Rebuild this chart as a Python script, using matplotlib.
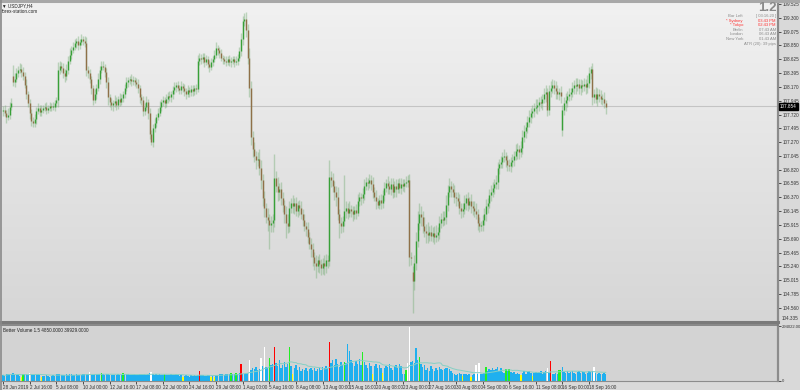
import numpy as np
import pandas as pd
import matplotlib
matplotlib.use("Agg")
import matplotlib.pyplot as plt

plt.rcParams['font.family'] = ['Liberation Sans', 'DejaVu Sans']

# USDJPY H4 closes, one row per trading day (6 bars), 28 Jun 2019 -> 20 Sep 2019
closes = [
    107.80, 107.75, 107.68, 107.72, 107.85, 107.90,
    108.25, 108.30, 108.40, 108.45, 108.47, 108.42,
    108.35, 108.20, 108.05, 107.90, 107.75, 107.62,
    107.58, 107.65, 107.78, 107.82, 107.76, 107.80,
    107.82, 107.84, 107.80, 107.83, 107.86, 107.85,
    107.85, 107.90, 107.95, 108.45, 108.52, 108.48,
    108.40, 108.35, 108.45, 108.60, 108.70, 108.78,
    108.82, 108.88, 108.92, 108.85, 108.90, 108.95,
    108.92, 108.88, 108.45, 108.40, 108.30, 108.15,
    107.96, 108.05, 108.15, 108.30, 108.45, 108.52,
    108.50, 108.42, 108.25, 108.00, 107.92, 107.88,
    107.90, 107.94, 107.88, 107.98, 107.92, 107.99,
    108.05, 108.15, 108.25, 108.28, 108.30, 108.26,
    108.29, 108.25, 108.22, 108.15, 108.00, 107.95,
    107.78, 107.85, 107.92, 107.75, 107.40, 107.27,
    107.50, 107.58, 107.68, 107.75, 107.85, 107.92,
    107.95, 107.90, 107.98, 108.03, 108.00, 108.05,
    108.12, 108.17, 108.20, 108.15, 108.12, 108.18,
    108.15, 108.10, 108.05, 108.12, 108.08, 108.14,
    108.10, 108.15, 108.13, 108.60, 108.65, 108.62,
    108.66, 108.58, 108.62, 108.55, 108.50, 108.58,
    108.62, 108.70, 108.80, 108.78, 108.72, 108.65,
    108.62, 108.60, 108.58, 108.62, 108.57, 108.60,
    108.62, 108.58, 108.60, 108.65, 108.75, 108.95,
    109.25, 109.28, 109.10, 108.65, 108.15, 107.35,
    107.15, 107.05, 106.98, 107.00, 106.85, 106.65,
    106.35, 106.20, 106.05, 106.00, 105.92, 105.95,
    106.00, 106.68, 106.55, 106.45, 106.50, 106.35,
    106.25, 106.10, 105.95, 105.90, 106.20, 106.28,
    106.22, 106.28, 106.15, 106.25, 106.20, 106.10,
    106.00, 105.90, 105.85, 105.72, 105.60, 105.52,
    105.40, 105.30, 105.25, 105.35, 105.28, 105.22,
    105.30, 105.25, 105.35, 105.32, 106.70, 106.65,
    106.55, 106.45, 106.38, 106.10, 105.95, 105.90,
    105.98, 106.15, 106.20, 106.12, 106.18, 106.14,
    106.10, 106.16, 106.12, 106.30, 106.38, 106.35,
    106.42, 106.55, 106.62, 106.60, 106.65, 106.58,
    106.45, 106.38, 106.30, 106.25, 106.32, 106.28,
    106.40, 106.52, 106.60, 106.55, 106.50, 106.58,
    106.45, 106.55, 106.50, 106.60, 106.52, 106.58,
    106.55, 106.60, 106.62, 106.65, 105.40, 105.38,
    105.00, 105.30, 105.65, 105.95, 106.10, 106.05,
    105.90, 105.82, 105.78, 105.75, 105.80, 105.74,
    105.78, 105.72, 105.76, 105.80, 105.95, 106.02,
    106.00, 106.05, 106.25, 106.45, 106.55, 106.50,
    106.45, 106.38, 106.35, 106.30, 106.20, 106.15,
    106.18, 106.28, 106.35, 106.25, 106.30, 106.22,
    106.20, 106.15, 106.10, 105.95, 105.90, 105.92,
    106.00, 106.10, 106.22, 106.28, 106.40, 106.45,
    106.52, 106.58, 106.62, 106.85, 106.92, 106.95,
    107.02, 107.05, 106.98, 106.90, 106.88, 106.95,
    106.98, 107.05, 107.12, 107.15, 107.10, 107.18,
    107.35, 107.45, 107.52, 107.60, 107.68, 107.75,
    107.78, 107.82, 107.85, 107.88, 107.92, 107.90,
    107.98, 108.05, 108.08, 107.80, 108.10, 108.15,
    108.20, 108.15, 108.10, 108.05, 108.08, 108.02,
    107.80, 107.90, 107.95, 108.02, 108.05, 108.08,
    108.15, 108.20, 108.18, 108.22, 108.16, 108.20,
    108.18, 108.22, 108.17, 108.24, 108.40, 108.46,
    108.00, 108.05, 107.98, 108.06, 108.02, 107.97,
    107.98, 107.90, 107.85,
]
first_open = 107.78
# Monday opens that gapped away from the Friday close
gap_opens = {6: 108.35, 246: 105.15, 336: 107.47}

# upper / lower shadow lengths in pips (0.01)
wick_up = [
    6, 8, 5, 10, 7, 9,   18, 10, 8, 6, 9, 7,   8, 6, 10, 5, 7, 6,   6, 8, 7, 9, 5, 8,
    5, 6, 8, 4, 6, 5,    7, 5, 6, 12, 8, 6,    8, 6, 9, 7, 10, 6,   8, 7, 5, 9, 6, 8,
    5, 8, 10, 7, 6, 5,   6, 8, 7, 9, 6, 8,     7, 5, 6, 8, 5, 7,    6, 10, 7, 5, 9, 6,
    5, 7, 8, 6, 5, 8,    6, 5, 7, 8, 6, 5,     8, 6, 10, 5, 7, 6,   6, 8, 5, 7, 9, 6,
    7, 5, 8, 6, 7, 5,    6, 8, 5, 7, 6, 8,     5, 7, 6, 8, 5, 6,    6, 5, 7, 10, 8, 6,
    7, 6, 8, 5, 6, 7,    6, 8, 10, 6, 5, 7,    5, 6, 8, 5, 7, 6,    6, 5, 7, 6, 8, 10,
    8, 10, 12, 10, 15, 12, 10, 12, 8, 10, 15, 12, 10, 12, 8, 15, 10, 12, 10, 40, 12, 15, 10, 12,
    10, 8, 12, 15, 10, 8, 12, 8, 10, 6, 8, 10,   8, 10, 6, 12, 8, 10,  10, 8, 12, 6, 10, 8,
    8, 12, 10, 8, 28, 10, 12, 8, 10, 15, 8, 10,  8, 58, 10, 8, 12, 6,  8, 6, 10, 12, 8, 6,
    10, 12, 8, 6, 10, 8, 12, 8, 10, 6, 8, 10,    8, 10, 6, 12, 8, 10,  10, 8, 12, 6, 8, 10,
    8, 6, 10, 8, 10, 8,  10, 12, 15, 20, 18, 12, 10, 15, 12, 18, 10, 12, 10, 12, 15, 8, 12, 10,
    12, 10, 15, 12, 13, 8, 10, 12, 8, 10, 12, 8, 10, 12, 8, 10, 8, 12,  8, 10, 12, 8, 10, 6,
    8, 10, 12, 8, 10, 12, 10, 8, 12, 10, 8, 10,  8, 10, 6, 8, 10, 8,   10, 8, 12, 10, 8, 10,
    12, 10, 8, 10, 12, 8, 10, 8, 12, 10, 8, 10,  8, 10, 12, 8, 10, 12, 10, 8, 12, 10, 8, 10,
    8, 10, 12, 8, 10, 8, 10, 8, 12, 10, 8, 10,   8, 10, 8, 12, 10, 5,  10, 8, 12, 10, 8, 10,
    8, 10, 6,
]
wick_dn = [
    8, 6, 10, 5, 7, 6,   6, 8, 5, 7, 6, 8,     7, 5, 8, 6, 10, 8,   7, 6, 8, 5, 7, 6,
    6, 5, 7, 6, 5, 8,    6, 8, 5, 10, 7, 6,    8, 10, 6, 7, 5, 8,   6, 5, 8, 7, 6, 5,
    7, 6, 10, 8, 7, 10,  8, 6, 7, 5, 8, 6,     6, 8, 10, 12, 7, 8,  10, 6, 8, 7, 6, 5,
    7, 6, 5, 8, 6, 7,    5, 7, 6, 8, 10, 7,    8, 7, 6, 10, 8, 5,   8, 6, 7, 5, 6, 8,
    6, 8, 5, 7, 6, 8,    7, 6, 8, 5, 7, 6,     6, 8, 7, 5, 8, 6,    7, 6, 8, 5, 7, 8,
    6, 8, 5, 7, 8, 6,    7, 5, 6, 8, 7, 6,     8, 6, 7, 5, 6, 8,    6, 8, 5, 7, 6, 8,
    10, 8, 12, 10, 15, 12, 12, 10, 15, 10, 12, 15, 12, 15, 10, 18, 40, 12, 15, 12, 10, 15, 12, 10,
    12, 15, 25, 12, 10, 8, 10, 12, 8, 10, 12, 8,  10, 8, 12, 10, 8, 12, 15, 12, 20, 10, 15, 12,
    10, 15, 12, 10, 8, 12, 10, 12, 15, 10, 25, 12, 10, 8, 12, 10, 8, 10, 12, 8, 10, 6, 8, 10,
    8, 10, 6, 12, 8, 10, 10, 8, 12, 6, 8, 10,    8, 10, 6, 12, 8, 10,  10, 8, 12, 6, 8, 10,
    8, 10, 6, 8, 15, 12, 52, 15, 12, 10, 12, 15, 12, 10, 15, 12, 10, 8, 10, 12, 8, 10, 12, 8,
    10, 8, 12, 10, 8, 12, 8, 10, 12, 8, 10, 12,  10, 8, 12, 10, 8, 10, 12, 10, 8, 12, 10, 8,
    10, 8, 12, 10, 8, 10, 8, 10, 8, 12, 10, 8,   10, 8, 12, 10, 8, 10, 8, 10, 8, 12, 10, 8,
    10, 8, 12, 10, 8, 10, 8, 10, 8, 12, 10, 8,   10, 8, 12, 10, 8, 10, 8, 10, 12, 8, 10, 12,
    10, 8, 12, 10, 8, 10, 8, 10, 12, 8, 10, 12,  10, 8, 12, 10, 8, 10, 12, 10, 8, 12, 10, 8,
    10, 8, 12,
]

# tick volume (thousands), same bar order
volume = [
    32, 28, 36, 40, 35, 38,   42, 30, 34, 38, 28, 24,   36, 40, 35, 32, 44, 38,   30, 34, 38, 36, 32, 24,
    28, 25, 30, 27, 22, 26,   30, 28, 35, 40, 38, 32,   34, 30, 36, 33, 38, 35,   30, 32, 36, 34, 30, 33,
    35, 38, 40, 36, 48, 30,   34, 38, 36, 40, 35, 44,   36, 32, 38, 35, 30, 34,   30, 34, 32, 36, 30, 33,
    43, 38, 36, 40, 34, 32,   30, 36, 34, 32, 38, 35,   36, 40, 34, 38, 42, 48,   38, 34, 36, 32, 35, 30,
    33, 36, 30, 34, 32, 38,   34, 30, 36, 33, 28, 30,   22, 28, 30, 26, 24, 30,   28, 30, 26, 34, 53, 32,
    30, 28, 26, 32, 30, 22,   28, 22, 30, 34, 36, 38,   36, 34, 38, 40, 36, 42,   38, 36, 42, 40, 45, 91,
    40, 38, 44, 42, 112, 60,  70, 62, 75, 58, 66, 123,  80, 182, 75, 68, 123, 85,  90, 182, 95, 80, 110, 72,
    85, 100, 75, 92, 182, 78, 40, 70, 85, 60, 75, 55,   65, 58, 70, 52, 62, 68,   60, 72, 55, 66, 70, 58,
    75, 68, 80, 72, 209, 95,  110, 85, 120, 90, 75, 100, 85, 102, 95, 200, 160, 110, 95, 80, 105, 90, 120, 85,
    155, 100, 85, 70, 95, 80, 40, 78, 90, 72, 85, 68,   42, 70, 82, 75, 90, 68,   60, 78, 85, 70, 92, 80,
    37, 40, 59, 96, 289, 100, 105, 98, 177, 110, 128, 90, 75, 85, 60, 70, 55, 80, 65, 55, 70, 60, 75, 62,
    58, 66, 72, 70, 64, 55,   45, 40, 30, 38, 42, 35,   25, 35, 40, 30, 36, 22,   32, 38, 85, 40, 96, 35,
    38, 45, 75, 55, 65, 60,   70, 58, 62, 75, 52, 68,   50, 45, 64, 55, 64, 48,   42, 50, 38, 45, 40, 30,
    45, 52, 40, 48, 55, 42,   28, 45, 50, 42, 48, 55,   40, 46, 52, 70, 45, 107,  35, 38, 42, 40, 59, 59,
    75, 50, 45, 55, 42, 48,   52, 45, 40, 48, 55, 42,   46, 50, 38, 45, 52, 48,   55, 75, 42, 38, 45, 40,
    36, 42, 38,
]
vol_white = [16, 52, 89, 148, 155, 157, 243, 244, 284, 286, 327, 355]
vol_red = [118, 143, 163, 196, 329]
vol_green = [12, 59, 72, 97, 137, 140, 160, 172, 205, 216, 242, 250, 290, 302, 304, 334, 335]
vol_yellow = [11, 23, 108, 125, 127, 174, 222, 228, 276, 281, 311, 318]

price_ticks = [109.525, 109.300, 109.075, 108.850, 108.625, 108.395, 108.170, 107.945,
               107.720, 107.495, 107.270, 107.045, 106.820, 106.595, 106.370, 106.145,
               105.915, 105.690, 105.465, 105.240, 105.015, 104.785, 104.560]
date_labels = ["28 Jun 2019", "2 Jul 16:00", "5 Jul 08:00", "10 Jul 00:00", "12 Jul 16:00",
               "17 Jul 08:00", "22 Jul 00:00", "24 Jul 16:00", "29 Jul 08:00", "1 Aug 00:00",
               "5 Aug 16:00", "8 Aug 08:00", "13 Aug 00:00", "15 Aug 16:00", "20 Aug 08:00",
               "23 Aug 00:00", "27 Aug 16:00", "30 Aug 08:00", "4 Sep 00:00", "6 Sep 16:00",
               "11 Sep 08:00", "16 Sep 00:00", "18 Sep 16:00"]
last_price = 107.854
vol_top = 294.022

FS = 3.3      # small platform font
TXT = "#333333"

# --- build OHLC
c = np.array(closes)
o = np.r_[first_open, c[:-1]]
for k, v in gap_opens.items():
    o[k] = v
hi = np.maximum(o, c) + np.array(wick_up) / 100
lo = np.minimum(o, c) - np.array(wick_dn) / 100
x = np.arange(len(c))

W, H = 800, 390
fig = plt.figure(figsize=(8, 3.9), dpi=100, facecolor="#d9d9d9")

def px_axes(l, t, r, b):
    return fig.add_axes([l / W, 1 - b / H, (r - l) / W, (b - t) / H])

ax = px_axes(1, 3, 778, 322)
axv = px_axes(1, 325, 778, 381)

xmin = -1.2
xmax = xmin + 777 / 1.665
ylo, yhi = 104.332, 109.541

# background gradient, light at top
grad = np.linspace(0, 1, 256).reshape(-1, 1)
cmap = matplotlib.colors.LinearSegmentedColormap.from_list("bg", ["#f1f1f1", "#d6d6d6"])
ax.imshow(grad, extent=[xmin, xmax, ylo, yhi], aspect="auto", cmap=cmap, zorder=0)

ax.axhline(last_price, color="#c4c4c4", lw=0.8, zorder=1)

# candles
bull = c >= o
ax.vlines(x, lo, hi, color="#7bb07b", alpha=0.45, lw=1.0, zorder=2)
body_lo = np.minimum(o, c)
body_hi = np.maximum(o, c)
body_hi = np.where(body_hi - body_lo < 0.015, body_lo + 0.015, body_hi)
ax.vlines(x[bull], body_lo[bull], body_hi[bull], color="#38a038", lw=1.0, zorder=3)
ax.vlines(x[~bull], body_lo[~bull], body_hi[~bull], color="#8f7048", lw=1.0, zorder=3)

ax.set_xlim(xmin, xmax)
ax.set_ylim(ylo, yhi)
ax.set_xticks([])
ax.yaxis.tick_right()
ax.set_yticks(price_ticks)
ax.set_yticklabels([f"{t:.3f}" for t in price_ticks])
ax.tick_params(axis="y", labelsize=FS, length=2, pad=1.2, width=0.6, colors=TXT)
for s in ["top", "left"]:
    ax.spines[s].set_visible(False)
ax.spines["right"].set_color("#8c8c8c")
ax.spines["right"].set_linewidth(1.6)
ax.spines["bottom"].set_color("#7a7a7a")
ax.spines["bottom"].set_linewidth(2.2)

ax.annotate(f"{last_price:.3f}", xy=(1.0, last_price), xycoords=("axes fraction", "data"),
            xytext=(1.5, 0), textcoords="offset points", fontsize=FS, color="white",
            va="center", ha="left",
            bbox=dict(boxstyle="square,pad=0.2", fc="black", ec="black"))
ax.annotate("104.335", xy=(1.0, ylo), xycoords=("axes fraction", "data"),
            xytext=(3, 1), textcoords="offset points", fontsize=FS, color=TXT,
            va="bottom", ha="left")

# --- volume panel
axv.set_facecolor("#d3d3d3")
vol = np.array(volume, dtype=float)
vcol = np.array(["#1fb0ef"] * len(vol), dtype=object)
vcol[vol_white] = "#ffffff"
vcol[vol_red] = "#ff0000"
vcol[vol_green] = "#22ee22"
vcol[vol_yellow] = "#ffff00"
axv.bar(x, vol, width=0.85, color=list(vcol), linewidth=0, zorder=2)
ma = pd.Series(vol).rolling(20, min_periods=1).mean()
axv.plot(x, ma, color="#86d0c4", lw=0.7, zorder=3)
axv.set_xlim(xmin, xmax)
axv.set_ylim(0, vol_top * 56 / 55)
axv.yaxis.tick_right()
axv.set_yticks([0, vol_top])
axv.set_yticklabels(["0", f"{vol_top * 1000:.2f}"])
axv.tick_params(axis="y", labelsize=3.0, length=2, pad=1.0, width=0.6, colors=TXT)
axv.set_xticks(np.arange(len(date_labels)) * 16)
axv.set_xticklabels(date_labels, ha="left")
axv.tick_params(axis="x", labelsize=FS, length=2, pad=0.8, width=0.6, colors=TXT)
axv.spines["left"].set_visible(False)
axv.spines["top"].set_color("#7a7a7a")
axv.spines["top"].set_linewidth(1.2)
axv.spines["right"].set_color("#8c8c8c")
axv.spines["right"].set_linewidth(1.6)
axv.spines["bottom"].set_color("#8c8c8c")
axv.text(0.003, 0.95, "Better Volume 1.5 4850.0000 39929.0000", transform=axv.transAxes,
         fontsize=FS, color="#222222", va="top", ha="left")

# --- header texts
fig.text(2 / W, 1 - 5.5 / H, "\u25bc USDJPY,H4", fontsize=FS, color="#222222", va="center")
fig.text(2 / W, 1 - 11.5 / H, "forex-station.com", fontsize=FS, color="#222222", va="center")
fig.text(777 / W, 1 - 8.0 / H, "1.2", fontsize=9.5, color="#8a8a8a", va="center", ha="right",
         fontweight="bold")
rows = [("Bar Left", "[ 03:16:20 ]", "#8a8a8a"),
        ("* Sydney", "03:43 PM", "#ff3030"),
        ("* Tokyo", "02:43 PM", "#ff3030"),
        ("Berlin", "07:43 AM", "#8a8a8a"),
        ("London", "06:43 AM", "#8a8a8a"),
        ("New York", "01:43 AM", "#8a8a8a")]
for k, (lab, val, col) in enumerate(rows):
    yy = 1 - (16.0 + 4.6 * k) / H
    fig.text(743 / W, yy, lab, fontsize=3.0, color=col, va="center", ha="right")
    fig.text(776 / W, yy, val, fontsize=3.0, color=col, va="center", ha="right")
fig.text(776 / W, 1 - 43.6 / H, "ATR (20): 39 pips", fontsize=3.0, color="#8a8a8a",
         va="center", ha="right")

# frame lines
fig.add_artist(plt.Line2D([0, 1], [1 - 1 / H, 1 - 1 / H], color="#a8a8a8", lw=2.2))
fig.add_artist(plt.Line2D([0.6 / W, 0.6 / W], [0, 1], color="#8a8a8a", lw=1.2))

fig.savefig("out.png", dpi=100, facecolor=fig.get_facecolor())
